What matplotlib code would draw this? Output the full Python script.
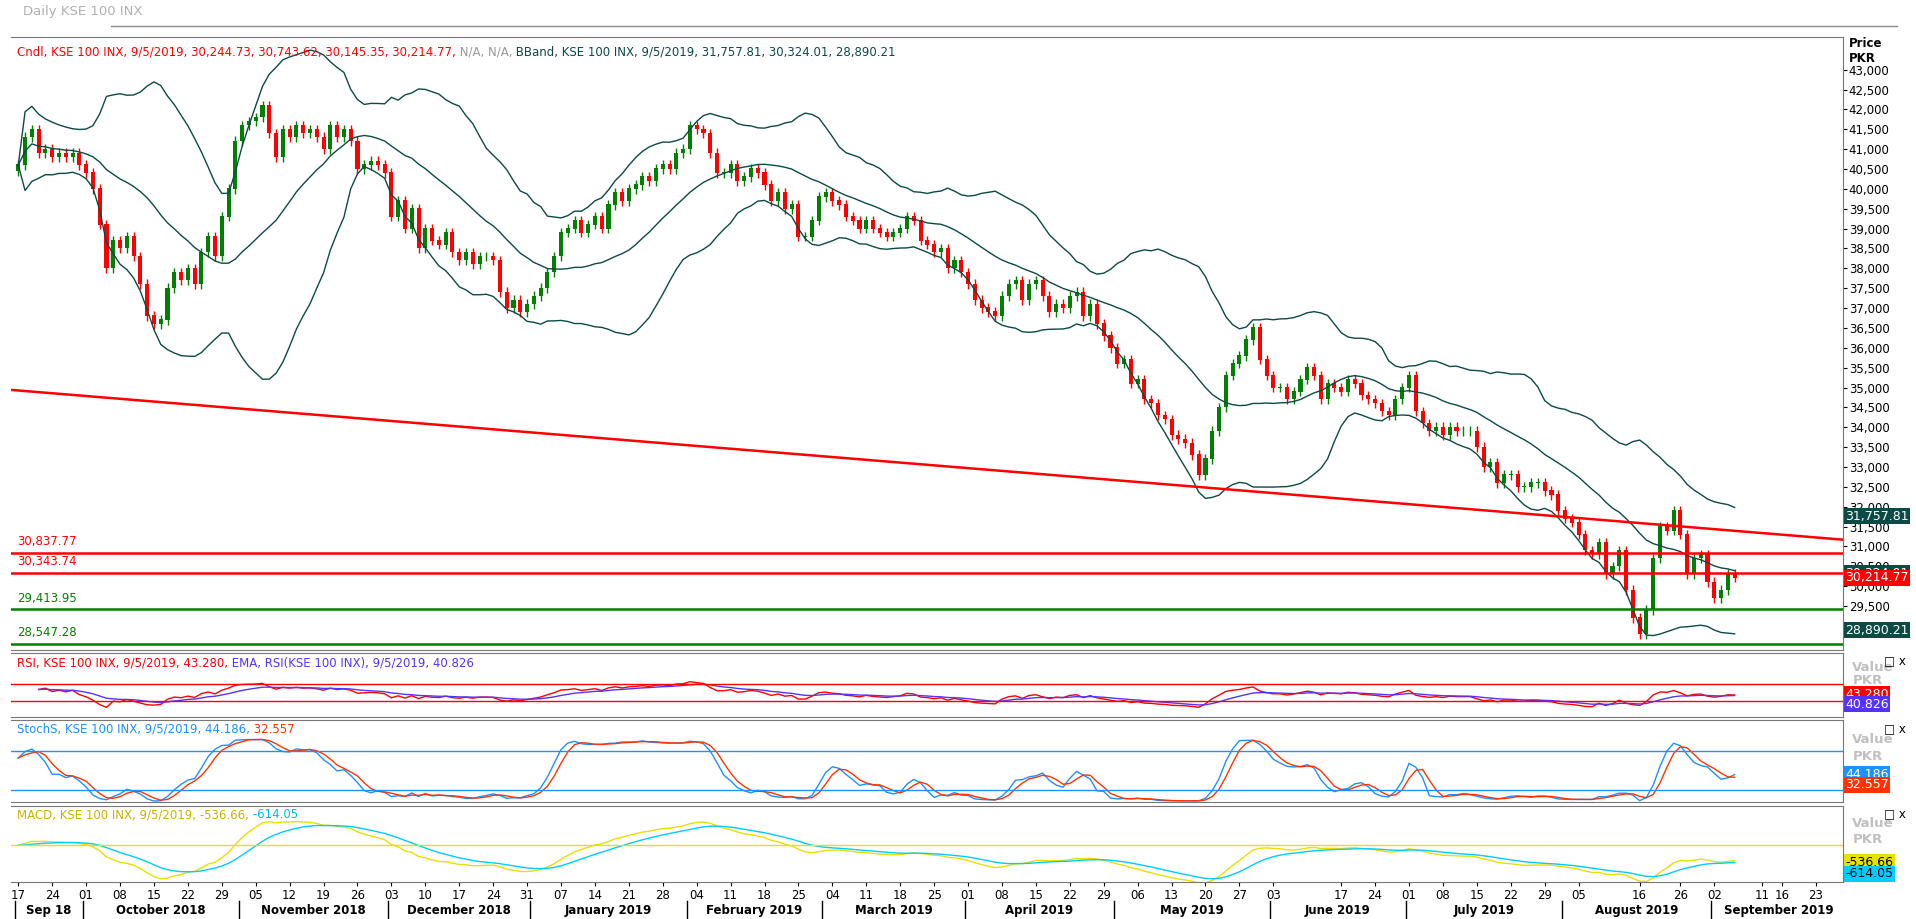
import numpy as np
import pandas as pd
import matplotlib
matplotlib.use('agg')
import matplotlib.pyplot as plt

# daily closes, KSE 100 (thousands), one list per month
sep18 = [40.6, 41.3, 41.5, 40.9, 41.0, 40.8, 40.9, 40.8, 40.9, 40.6]
oct18 = [40.4, 40.0, 39.1, 38.0, 38.7, 38.5, 38.8, 38.3, 37.6, 36.8, 36.6, 36.7,
         37.5, 37.9, 37.7, 38.0, 37.6, 38.4, 38.8, 38.3, 39.3, 40.0, 41.2]
nov18 = [41.6, 41.7, 41.8, 42.1, 41.4, 40.8, 41.5, 41.3, 41.6, 41.4, 41.5, 41.3,
         41.0, 41.6, 41.3, 41.5, 41.2, 40.5, 40.6, 40.7, 40.6, 40.4]
dec18 = [39.3, 39.7, 39.0, 39.5, 38.5, 39.0, 38.7, 38.6, 38.9, 38.4, 38.2, 38.4,
         38.1, 38.3, 38.3, 38.2, 37.4, 37.0, 37.2, 36.9, 37.1]
jan19 = [37.3, 37.5, 37.9, 38.3, 38.9, 39.0, 39.2, 38.9, 39.1, 39.3, 39.0, 39.6,
         39.9, 39.7, 40.0, 40.1, 40.3, 40.2, 40.5, 40.6, 40.5, 40.9, 41.0]
feb19 = [41.6, 41.5, 41.4, 40.9, 40.4, 40.4, 40.6, 40.2, 40.3, 40.5, 40.4, 40.1,
         39.7, 39.9, 39.5, 39.6, 38.8, 38.8, 39.2, 39.8]
mar19 = [39.9, 39.7, 39.6, 39.3, 39.2, 39.0, 39.2, 39.0, 38.9, 38.8, 38.9, 39.0,
         39.3, 39.2, 38.7, 38.6, 38.4, 38.5, 38.0, 38.2, 37.9]
apr19 = [37.6, 37.2, 37.0, 36.9, 36.8, 37.3, 37.6, 37.7, 37.2, 37.6, 37.7, 37.3,
         36.9, 37.1, 37.0, 37.3, 37.4, 36.8, 37.1, 36.6, 36.3, 36.0]
may19 = [35.6, 35.7, 35.1, 35.2, 34.7, 34.6, 34.3, 34.2, 33.8, 33.7, 33.6, 33.3,
         32.8, 33.2, 33.9, 34.5, 35.3, 35.6, 35.8, 36.2, 36.5, 35.7, 35.3]
jun19 = [35.0, 35.0, 34.7, 34.9, 35.2, 35.5, 35.3, 34.7, 35.1, 35.0, 34.9, 35.2,
         35.1, 34.8, 34.7, 34.6, 34.4, 34.3, 34.7, 35.0]
jul19 = [35.3, 34.4, 34.1, 33.9, 34.0, 33.8, 34.0, 33.9, 33.9, 33.9, 33.5, 33.0,
         33.1, 32.6, 32.8, 32.8, 32.5, 32.5, 32.6, 32.6, 32.4, 32.3, 31.9]
aug19 = [31.7, 31.6, 31.3, 30.9, 30.8, 31.1, 30.3, 30.5, 30.9, 29.9, 29.2, 28.8,
         29.4, 30.7, 31.5, 31.4, 31.9, 31.3, 30.3, 30.7, 30.8, 30.1]
sep19 = [29.7, 29.9, 30.3, 30.21477]

closes = np.array(sep18 + oct18 + nov18 + dec18 + jan19 + feb19 + mar19 + apr19
                  + may19 + jun19 + jul19 + aug19 + sep19) * 1000
dates = pd.bdate_range('2018-09-17', '2019-09-05')
future = pd.bdate_range('2019-09-06', '2019-09-27')
all_dates = dates.append(future)

h_red = [30837.77, 30343.74]
h_green = [29413.95, 28547.28]
trend = [34940, 31170]   # red trend line value at left / right edge

# last values as printed by the source chart
bband_last = [31757.81, 30324.01, 28890.21]
close_last = 30214.77
rsi_last = [43.280, 40.826]
stoch_last = [44.186, 32.557]
macd_last = [-536.66, -614.05]

tick_dates = ['2018-09-17', '2018-09-24', '2018-10-01', '2018-10-08', '2018-10-15',
              '2018-10-22', '2018-10-29', '2018-11-05', '2018-11-12', '2018-11-19',
              '2018-11-26', '2018-12-03', '2018-12-10', '2018-12-17', '2018-12-24',
              '2018-12-31', '2019-01-07', '2019-01-14', '2019-01-21', '2019-01-28',
              '2019-02-04', '2019-02-11', '2019-02-18', '2019-02-25', '2019-03-04',
              '2019-03-11', '2019-03-18', '2019-03-25', '2019-04-01', '2019-04-08',
              '2019-04-15', '2019-04-22', '2019-04-29', '2019-05-06', '2019-05-13',
              '2019-05-20', '2019-05-27', '2019-06-03', '2019-06-17', '2019-06-24',
              '2019-07-01', '2019-07-08', '2019-07-15', '2019-07-22', '2019-07-29',
              '2019-08-05', '2019-08-16', '2019-08-26', '2019-09-02', '2019-09-11',
              '2019-09-16', '2019-09-23']
months = ['Sep 18', 'October 2018', 'November 2018', 'December 2018', 'January 2019',
          'February 2019', 'March 2019', 'April 2019', 'May 2019', 'June 2019',
          'July 2019', 'August 2019', 'September 2019']

n = len(closes)
x = np.arange(n)
opens = np.r_[closes[0] - 150, closes[:-1]]
highs = np.maximum(opens, closes) + 120
lows = np.minimum(opens, closes) - 120
s = pd.Series(closes)

# indicators from the closes
mid = s.rolling(20, min_periods=1).mean()
sd = s.rolling(20, min_periods=2).std().fillna(0)
bb_up, bb_lo = mid + 2 * sd, mid - 2 * sd
d = s.diff().fillna(0)
up = d.clip(lower=0).ewm(alpha=1 / 14, adjust=False).mean()
dn = (-d.clip(upper=0)).ewm(alpha=1 / 14, adjust=False).mean()
rsi = 100 - 100 / (1 + up / dn.replace(0, 1e-9))
rsi[:3] = np.nan
rsi_ema = rsi.ewm(span=9, adjust=False).mean()
hh = pd.Series(highs).rolling(14, min_periods=1).max()
ll = pd.Series(lows).rolling(14, min_periods=1).min()
k = (100 * (s - ll) / (hh - ll)).rolling(3, min_periods=1).mean()
dk = k.rolling(3, min_periods=1).mean()
macd = s.ewm(span=12, adjust=False).mean() - s.ewm(span=26, adjust=False).mean()
sig = macd.ewm(span=9, adjust=False).mean()

fig = plt.figure(figsize=(19.16, 9.19), dpi=100)
L, R = 0.006, 0.962
ax = fig.add_axes([L, 0.293, R - L, 0.667])
ax1 = fig.add_axes([L, 0.220, R - L, 0.069], sharex=ax)
ax2 = fig.add_axes([L, 0.127, R - L, 0.089], sharex=ax)
ax3 = fig.add_axes([L, 0.040, R - L, 0.083], sharex=ax)

fs = 8.5


def chain(a, parts, y=0.985):
    # header texts placed one after another
    prev = a.text(0.003, y, parts[0][0], transform=a.transAxes, color=parts[0][1],
                  fontsize=fs, va='top')
    for txt, col in parts[1:]:
        prev = a.annotate(' ' + txt, xy=(1, 0), xycoords=prev, va='bottom',
                          color=col, fontsize=fs)


for i in range(n):
    col = 'green' if closes[i] >= opens[i] else 'red'
    ax.vlines(x[i], lows[i], highs[i], color=col, lw=1)
    ax.bar(x[i], abs(closes[i] - opens[i]) + 15, bottom=min(opens[i], closes[i]),
           width=0.6, color=col)
for b in (mid, bb_up, bb_lo):
    ax.plot(x, b, color='#0b4a45', lw=1)
xmax = len(all_dates) - 1
ax.plot([-1, xmax], trend, color='red', lw=1.8)
for vals, c in ((h_red, 'red'), (h_green, 'green')):
    for v in vals:
        ax.axhline(v, color=c, lw=1.8)
        ax.text(0.003, v + 120, f'{v:,.2f}', transform=ax.get_yaxis_transform(),
                color=c, fontsize=fs, va='bottom')
ax.set_ylim(28400, 43830)
ax.set_xlim(-1, xmax)
yt = np.arange(29000, 43001, 500)
ax.set_yticks(yt)
ax.set_yticklabels([f'{v:,}' for v in yt], fontsize=fs)
for lab, v in zip(ax.get_yticklabels(), yt):
    if v % 5000 == 0:
        lab.set_fontweight('bold')
ax.text(1.003, 1.0, 'Price\nPKR', transform=ax.transAxes, fontsize=fs,
        fontweight='bold', va='top')


def tag(a, v, text, fc, tc='white'):
    a.text(1.001, v, text, transform=a.get_yaxis_transform(), fontsize=fs + 0.5,
           color=tc, va='center', ha='left',
           bbox=dict(boxstyle='square,pad=0.12', fc=fc, ec='none'))


for v in bband_last:
    tag(ax, v, f'{v:,.2f}', '#0b4a45')
tag(ax, close_last, f'{close_last:,.2f}', 'red')

fig.text(0.012, 0.988, 'Daily KSE 100 INX', color='#b0b0b0', fontsize=fs + 1, va='center')
fig.add_artist(plt.Line2D([0.058, 0.99], [0.972, 0.972], color='#888888', lw=1))
chain(ax, [('Cndl, KSE 100 INX, 9/5/2019, 30,244.73, 30,743.62, 30,145.35, 30,214.77,', 'red'),
           ('N/A, N/A,', '#999999'),
           ('BBand, KSE 100 INX, 9/5/2019, 31,757.81, 30,324.01, 28,890.21', '#0b4a45')])

# RSI
ax1.plot(x, rsi, color='red', lw=1)
ax1.plot(x, rsi_ema, color='#5533ff', lw=1)
ax1.axhline(70, color='red', lw=1)
ax1.axhline(30, color='red', lw=1)
ax1.set_ylim(-7, 141)
chain(ax1, [('RSI, KSE 100 INX, 9/5/2019, 43.280,', 'red'),
            ('EMA, RSI(KSE 100 INX), 9/5/2019, 40.826', '#5533ff')], y=0.95)
tag(ax1, 46, f'{rsi_last[0]:.3f}', 'red')
tag(ax1, 22, f'{rsi_last[1]:.3f}', '#5533ff')

# Stochastic
ax2.plot(x, k, color='#1e90ff', lw=1)
ax2.plot(x, dk, color='#ff3300', lw=1)
ax2.axhline(80, color='#1e90ff', lw=1)
ax2.axhline(20, color='#1e90ff', lw=1)
ax2.set_ylim(1, 127)
chain(ax2, [('StochS, KSE 100 INX, 9/5/2019, 44.186,', '#1e90ff'),
            ('32.557', '#ff3300')], y=0.97)
tag(ax2, 44, f'{stoch_last[0]:.3f}', '#1e90ff')
tag(ax2, 28, f'{stoch_last[1]:.3f}', '#ff3300')

# MACD
ax3.plot(x, macd, color='#e8e000', lw=1)
ax3.plot(x, sig, color='#00ccff', lw=1)
ax3.axhline(0, color='#e8e000', lw=1)
ax3.set_ylim(-1080, 1150)
chain(ax3, [('MACD, KSE 100 INX, 9/5/2019, -536.66,', '#c8b400'),
            ('-614.05', '#00bbee')], y=0.97)
tag(ax3, -500, f'{macd_last[0]:.2f}', '#e8e000', 'black')
tag(ax3, -830, f'{macd_last[1]:.2f}', '#00ccff', 'black')

for a in (ax1, ax2, ax3):
    a.set_yticks([])
    a.text(1.005, 0.72, 'Value', transform=a.transAxes, color='#c0c0c0', fontsize=fs + 1,
           fontweight='bold')
    a.text(1.005, 0.52, 'PKR', transform=a.transAxes, color='#c0c0c0', fontsize=fs + 1,
           fontweight='bold')
    a.text(1.034, 0.97, '□ x', transform=a.transAxes, fontsize=fs, va='top', ha='right')

for a in (ax, ax1, ax2, ax3):
    a.yaxis.tick_right()
    a.tick_params(axis='y', length=3, pad=1)
    for sp in a.spines.values():
        sp.set_color('#777777')
    a.spines['left'].set_visible(False)
    if a is not ax3:
        a.tick_params(axis='x', bottom=False, labelbottom=False)

pos = [all_dates.get_indexer([pd.Timestamp(t)], method='nearest')[0] for t in tick_dates]
ax3.set_xticks(pos)
ax3.set_xticklabels([pd.Timestamp(t).strftime('%d') for t in tick_dates], fontsize=fs)
ax3.tick_params(axis='x', length=3, pad=2)

# month labels and separators
mser = pd.Series(np.arange(len(all_dates)), index=all_dates)
for (per, grp), name in zip(mser.groupby(all_dates.to_period('M')), months):
    c = (grp.iloc[0] + grp.iloc[-1]) / 2
    ax3.text(c, -0.42, name, transform=ax3.get_xaxis_transform(), ha='center',
             fontsize=fs, fontweight='bold')
    ax3.plot([grp.iloc[0] - 0.5] * 2, [-0.25, -0.5], transform=ax3.get_xaxis_transform(),
             color='black', lw=1, clip_on=False)

fig.savefig('out.png', dpi=100)
plt.close(fig)
